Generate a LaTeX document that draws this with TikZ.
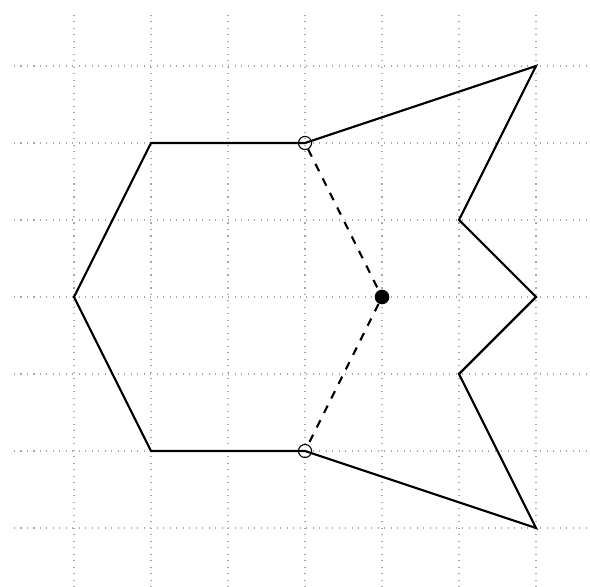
\documentclass[tikz,border=0pt]{standalone}
\usepackage{tikz}
\usetikzlibrary{positioning}

\begin{document}
\begin{tikzpicture}[
    gridline/.style={gray!70, dotted, thin},
    edge/.style={black, thick, line join=miter},
    spoke/.style={black, thick, dashed},
    opendot/.style={circle, draw=black, thin, fill=none, inner sep=0pt, minimum size=0.17cm},
    fulldot/.style={circle, fill=black, inner sep=0pt, minimum size=0.19cm}
]
\useasboundingbox (-0.961,-0.766) rectangle (6.701,6.857);

% Grid
\draw[gridline] (-0.78,-0.77) grid (6.70,6.73);

% Corner points
\coordinate (p1) at (1,5);
\coordinate (p2) at (6,6);
\coordinate (p3) at (5,4);
\coordinate (p4) at (6,3);
\coordinate (p5) at (5,2);
\coordinate (p6) at (6,0);
\coordinate (p7) at (1,1);
\coordinate (p8) at (0,3);

% Marked points
\node[opendot] (top) at (3,5) {};
\node[opendot] (bot) at (3,1) {};
\node[fulldot] (mid) at (4,3) {};

% Outline
\draw[edge] (p1) -- (top.center) -- (p2) -- (p3) -- (p4) -- (p5) -- (p6)
    -- (bot.center) -- (p7) -- (p8) -- cycle;

% Dashed spokes
\draw[spoke] (top) -- (mid);
\draw[spoke] (mid) -- (bot);

\end{tikzpicture}
\end{document}
